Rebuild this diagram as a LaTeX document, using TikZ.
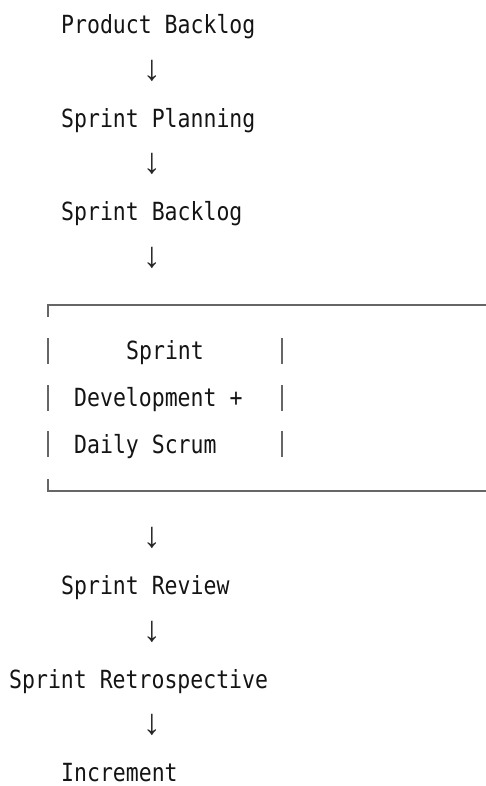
\documentclass[tikz,border=0pt]{standalone}
\usepackage{fontspec}
\setmonofont[FakeStretch=0.86]{DejaVu Sans Mono}
\newfontfamily\arrowfont{Liberation Mono}
\usepackage{tikz}

\begin{document}
\begin{tikzpicture}[x=1pt,y=-1pt]%
  \tikzstyle{stage}=[anchor=base west,inner sep=0,text=black!92,
    font=\ttfamily\fontsize{25}{30}\selectfont]
  \tikzstyle{down}=[anchor=center,inner sep=0,text=black!85,
    font=\arrowfont\fontsize{36}{40}\selectfont]
  \tikzstyle{frame}=[draw=black!60,line width=1.1pt]
  \useasboundingbox (0,0) rectangle (486,786);
  \node(pb)[stage] at (61,34) {Product Backlog};
  \node(d1)[down] at (152,71) {↓};
  \node(sp)[stage] at (61,127.5) {Sprint Planning};
  \node(d2)[down] at (152,164) {↓};
  \node(sb)[stage] at (61,221) {Sprint Backlog};
  \node(d3)[down] at (152,258) {↓};
  % the sprint box
  \draw[frame] (486,305) -- (48,305) -- (48,317);
  \foreach \c in {351,398,444}
    \draw[frame] (48,\c-13) -- (48,\c+13) (282,\c-13) -- (282,\c+13);
  \draw[frame] (48,479) -- (48,491) -- (486,491);
  \node(sn)[stage] at (126,359.5) {Sprint};
  \node(dev)[stage] at (74,406.5) {Development +};
  \node(ds)[stage] at (74,453) {Daily Scrum};
  \node(d4)[down] at (152,538) {↓};
  \node(sr)[stage] at (61,594) {Sprint Review};
  \node(d5)[down] at (152,632) {↓};
  \node(ret)[stage] at (9,688) {Sprint Retrospective};
  \node(d6)[down] at (152,725) {↓};
  \node(inc)[stage] at (61,781.5) {Increment};
\end{tikzpicture}
\end{document}
